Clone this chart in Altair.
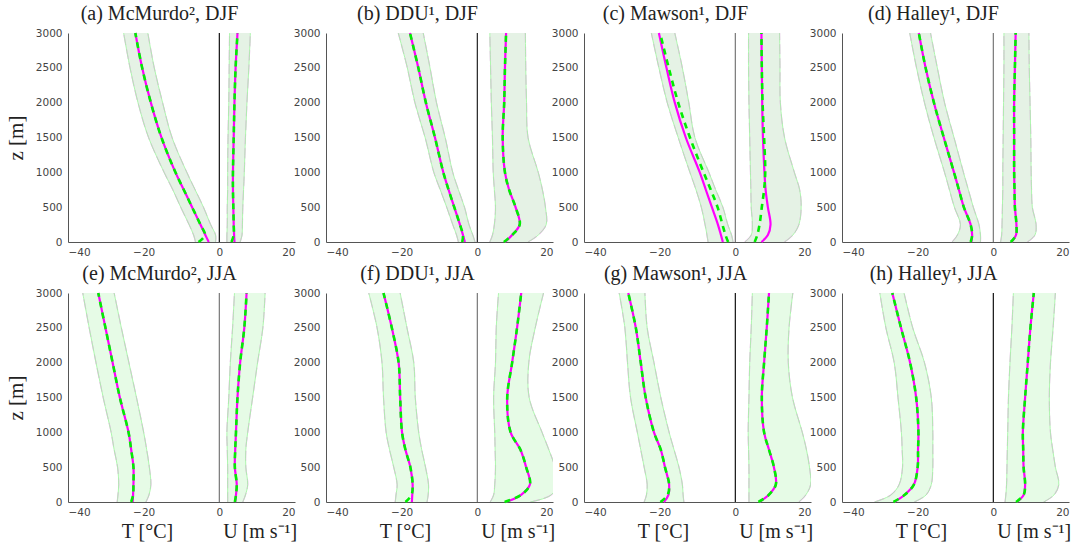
import altair as alt
import pandas as pd

# heights (m)
Z = [0, 100, 250, 500, 750, 1000, 1500, 2000, 2500, 3000]

TITLES = ["(a) McMurdo², DJF", "(b) DDU¹, DJF", "(c) Mawson¹, DJF", "(d) Halley¹, DJF",
          "(e) McMurdo², JJA", "(f) DDU¹, JJA", "(g) Mawson¹, JJA", "(h) Halley¹, JJA"]
X_TICKS = [-40, -20, 0, 20]
Y_TICKS = [0, 500, 1000, 1500, 2000, 2500, 3000]
X_LABELS = ["T [°C]", "U [m s⁻¹]"]
X_LABEL_POS = [-19, 10.8]

# (a) McMurdo DJF
A_T = [-2.8, -3.7, -5.0, -7.2, -9.4, -11.6, -15.3, -18.1, -20.4, -22.2]
A_T_MOD = [-5.5, -3.8, -5.0, -7.2, -9.4, -11.6, -15.3, -18.1, -20.4, -22.2]
A_T_LO = [-6.3, -6.8, -8.0, -10.2, -12.3, -14.6, -18.7, -21.5, -23.6, -25.3]
A_T_HI = [-1.0, -1.0, -2.3, -4.2, -6.4, -8.6, -12.5, -15.0, -17.2, -18.9]
A_U = [4.0, 3.9, 3.8, 3.7, 3.6, 3.6, 3.8, 4.0, 4.3, 4.8]
A_U_MOD = [3.2, 3.8, 3.8, 3.7, 3.6, 3.6, 3.8, 4.0, 4.3, 4.8]
A_U_LO = [2.0, 2.0, 2.1, 2.1, 2.2, 2.2, 2.3, 2.5, 2.6, 2.7]
A_U_HI = [5.5, 6.0, 6.1, 6.2, 6.4, 6.6, 6.9, 7.3, 7.8, 8.2]

# (b) DDU DJF
B_T = [-3.3, -3.8, -4.6, -6.1, -7.6, -9.0, -11.2, -13.6, -15.6, -17.8]
B_T_MOD = [-4.0, -3.8, -4.6, -6.1, -7.6, -9.0, -11.2, -13.6, -15.6, -17.8]
B_T_LO = [-5.0, -5.5, -6.5, -8.1, -9.8, -11.5, -13.8, -16.5, -18.5, -20.9]
B_T_HI = [-0.6, -1.2, -2.2, -3.4, -5.0, -6.5, -8.5, -10.8, -12.5, -14.3]
B_U = [7.3, 9.2, 11.2, 10.1, 8.4, 7.3, 6.7, 7.1, 7.3, 7.6]
B_U_MOD = [7.0, 9.2, 11.2, 10.1, 8.4, 7.3, 6.7, 7.1, 7.3, 7.6]
B_U_LO = [3.3, 4.0, 4.5, 4.8, 4.5, 4.2, 4.0, 3.7, 3.5, 3.3]
B_U_HI = [13.4, 16.1, 18.2, 18.0, 17.2, 16.1, 13.4, 13.0, 12.8, 12.7]

# (c) Mawson DJF
C_T = [-3.3, -3.8, -4.6, -6.2, -7.8, -9.4, -13.1, -16.0, -18.2, -20.2]
C_T_MOD = [-1.9, -2.6, -3.4, -4.7, -6.5, -8.4, -12.0, -15.1, -17.6, -19.9]
C_T_LO = [-7.2, -7.5, -8.0, -9.0, -10.4, -12.0, -15.1, -18.0, -20.2, -22.2]
C_T_HI = [-0.6, -1.0, -2.0, -3.3, -5.2, -7.0, -10.7, -12.3, -14.0, -16.0]
C_U = [6.9, 8.6, 9.3, 8.6, 8.0, 7.7, 7.3, 7.1, 7.0, 6.9]
C_U_MOD = [5.1, 5.8, 6.4, 7.0, 7.6, 7.9, 7.6, 7.2, 7.0, 6.9]
C_U_LO = [2.5, 4.2, 4.5, 4.2, 4.1, 4.0, 3.8, 3.6, 3.5, 3.5]
C_U_HI = [13.0, 15.2, 16.8, 17.4, 17.0, 15.6, 13.0, 11.9, 11.8, 11.7]

# (d) Halley DJF
D_T = [-5.8, -5.6, -6.0, -7.8, -9.1, -10.4, -13.1, -15.7, -17.9, -19.7]
D_T_MOD = [-6.0, -5.6, -6.0, -7.8, -9.1, -10.4, -13.1, -15.7, -17.9, -19.7]
D_T_LO = [-10.9, -9.5, -8.7, -10.3, -11.6, -12.9, -15.7, -18.2, -20.3, -22.1]
D_T_HI = [-3.4, -3.4, -3.8, -5.3, -6.6, -7.9, -10.4, -12.9, -14.8, -16.6]
D_U = [4.8, 6.0, 6.1, 5.7, 5.6, 5.5, 5.5, 5.5, 5.7, 5.9]
D_U_MOD = [4.6, 6.0, 6.1, 5.7, 5.6, 5.5, 5.5, 5.5, 5.7, 5.9]
D_U_LO = [1.9, 2.2, 2.3, 2.4, 2.5, 2.5, 2.6, 2.7, 2.8, 2.8]
D_U_HI = [9.0, 11.0, 11.3, 10.3, 10.1, 10.0, 9.9, 9.7, 9.5, 9.4]

# (e) McMurdo JJA
E_T = [-22.9, -22.8, -22.7, -22.7, -23.3, -24.0, -26.3, -28.2, -30.1, -32.0]
E_T_MOD = [-23.3, -22.8, -22.7, -22.7, -23.3, -24.0, -26.3, -28.2, -30.1, -32.0]
E_T_LO = [-27.0, -26.8, -26.6, -26.9, -27.8, -28.6, -30.7, -32.6, -34.4, -36.1]
E_T_HI = [-19.4, -18.6, -18.1, -18.5, -19.2, -20.0, -21.9, -23.9, -25.9, -27.8]
E_U = [4.2, 4.4, 4.6, 4.1, 4.2, 4.4, 4.8, 5.5, 6.6, 7.2]
E_U_MOD = [4.1, 4.4, 4.6, 4.1, 4.2, 4.4, 4.8, 5.5, 6.6, 7.2]
E_U_LO = [2.2, 2.2, 2.2, 2.2, 2.1, 2.0, 2.5, 2.9, 3.5, 4.0]
E_U_HI = [6.2, 6.9, 7.5, 7.0, 7.0, 7.5, 8.8, 10.1, 11.5, 12.1]

# (f) DDU JJA
F_T = [-17.3, -17.2, -17.1, -17.7, -19.0, -19.9, -20.4, -20.8, -22.6, -24.8]
F_T_MOD = [-19.0, -17.4, -17.1, -17.7, -19.0, -19.9, -20.4, -20.8, -22.6, -24.8]
F_T_LO = [-21.7, -21.5, -21.2, -22.1, -23.2, -24.1, -24.8, -25.2, -26.5, -28.7]
F_T_HI = [-13.3, -13.0, -12.9, -13.7, -14.7, -15.5, -16.4, -16.8, -18.6, -20.4]
F_U = [7.4, 11.5, 13.9, 12.9, 11.4, 8.8, 7.9, 9.2, 10.5, 11.6]
F_U_MOD = [7.2, 11.5, 13.9, 12.9, 11.4, 8.8, 7.9, 9.2, 10.5, 11.6]
F_U_LO = [3.4, 4.3, 4.6, 4.8, 4.7, 4.6, 4.3, 4.8, 5.0, 5.6]
F_U_HI = [14.0, 19.5, 21.0, 20.5, 18.9, 17.1, 13.7, 13.6, 15.3, 17.5]

# (g) Mawson JJA
G_T = [-18.9, -17.7, -17.5, -18.6, -19.7, -21.5, -23.7, -25.0, -26.3, -28.3]
G_T_MOD = [-19.8, -17.9, -17.5, -18.6, -19.7, -21.5, -23.7, -25.0, -26.3, -28.3]
G_T_LO = [-24.1, -23.5, -23.3, -24.1, -25.0, -25.9, -27.7, -28.5, -29.2, -30.7]
G_T_HI = [-13.6, -13.8, -14.0, -14.9, -16.2, -17.5, -19.7, -21.5, -23.3, -23.9]
G_U = [6.3, 8.8, 10.7, 10.2, 8.9, 7.6, 7.0, 7.6, 8.3, 8.9]
G_U_MOD = [6.1, 8.8, 10.7, 10.2, 8.9, 7.6, 7.0, 7.6, 8.3, 8.9]
G_U_LO = [3.6, 3.6, 3.6, 3.6, 3.5, 3.4, 3.6, 3.8, 4.2, 4.5]
G_U_HI = [16.8, 18.6, 19.9, 19.6, 18.8, 17.7, 15.1, 14.0, 14.2, 15.2]

# (h) Halley JJA
H_T = [-26.2, -23.5, -21.0, -20.0, -19.9, -19.8, -20.4, -22.0, -24.4, -26.7]
H_T_MOD = [-26.4, -23.5, -21.0, -20.0, -19.9, -19.8, -20.4, -22.0, -24.4, -26.7]
H_T_LO = [-31.4, -27.1, -24.9, -24.0, -24.1, -24.3, -25.2, -26.2, -28.4, -30.0]
H_T_HI = [-20.9, -17.8, -16.4, -16.0, -16.0, -16.0, -16.4, -18.2, -21.3, -23.6]
H_U = [6.2, 8.0, 8.4, 8.0, 7.9, 7.8, 8.4, 9.1, 9.8, 10.7]
H_U_MOD = [6.0, 8.0, 8.4, 8.0, 7.9, 7.8, 8.4, 9.1, 9.8, 10.7]
H_U_LO = [3.1, 3.3, 3.5, 3.6, 3.7, 3.8, 4.0, 4.4, 4.9, 5.3]
H_U_HI = [13.3, 16.0, 17.3, 16.4, 15.7, 15.1, 14.8, 15.1, 15.8, 16.4]

PANELS = [
    (A_T, A_T_MOD, A_T_LO, A_T_HI, A_U, A_U_MOD, A_U_LO, A_U_HI),
    (B_T, B_T_MOD, B_T_LO, B_T_HI, B_U, B_U_MOD, B_U_LO, B_U_HI),
    (C_T, C_T_MOD, C_T_LO, C_T_HI, C_U, C_U_MOD, C_U_LO, C_U_HI),
    (D_T, D_T_MOD, D_T_LO, D_T_HI, D_U, D_U_MOD, D_U_LO, D_U_HI),
    (E_T, E_T_MOD, E_T_LO, E_T_HI, E_U, E_U_MOD, E_U_LO, E_U_HI),
    (F_T, F_T_MOD, F_T_LO, F_T_HI, F_U, F_U_MOD, F_U_LO, F_U_HI),
    (G_T, G_T_MOD, G_T_LO, G_T_HI, G_U, G_U_MOD, G_U_LO, G_U_HI),
    (H_T, H_T_MOD, H_T_LO, H_T_HI, H_U, H_U_MOD, H_U_LO, H_U_HI),
]
ZERO_LINE_COLORS = ["#111111", "#222222", "#777777", "#777777",
                    "#777777", "#777777", "#111111", "#111111"]
FILL_TOP = "#e5f2e5"
FILL_BOTTOM = "#e6fbe6"

W, H = 227, 209
XS = alt.Scale(domain=[-40, 20], nice=False, zero=False)
YS = alt.Scale(domain=[0, 3000], nice=False, zero=False)


def xenc(field):
    return alt.X(field, type="quantitative", scale=XS,
                 axis=alt.Axis(values=X_TICKS, title=None, format="d", labelPadding=5))


def yenc(field, col):
    return alt.Y(field, type="quantitative", scale=YS,
                 axis=alt.Axis(values=Y_TICKS, title="z [m]" if col == 0 else None,
                               format="d", titleFontWeight="normal",
                               titleFont="Liberation Serif", titleFontSize=21))


def panel(i):
    t, tm, tlo, thi, u, um, ulo, uhi = PANELS[i]
    col = i % 4
    bottom = i >= 4
    n = len(Z)
    fill = FILL_BOTTOM if bottom else FILL_TOP

    band = pd.DataFrame({"z": Z * 2, "lo": tlo + ulo, "hi": thi + uhi,
                         "var": ["T"] * n + ["U"] * n})
    edges = pd.DataFrame({"z": Z * 4, "v": tlo + thi + ulo + uhi,
                          "s": ["a"] * n + ["b"] * n + ["c"] * n + ["d"] * n})
    obs = pd.DataFrame({"z": Z * 2, "v": t + u, "s": ["T"] * n + ["U"] * n})
    mod = pd.DataFrame({"z": Z * 2, "v": tm + um, "s": ["T"] * n + ["U"] * n})
    zero = pd.DataFrame({"x": [0], "z0": [0], "z1": [3000]})

    area = alt.Chart(band).mark_area(
        orient="horizontal", interpolate="catmull-rom", fill=fill, opacity=1,
        clip=True
    ).encode(x=xenc("lo"), x2=alt.X2("hi"), y=yenc("z", col), detail="var:N")
    pink_edge = alt.Chart(edges).mark_line(
        interpolate="catmull-rom", color="#f5a8f5", strokeWidth=1.2,
        strokeDash=[10, 4], clip=True
    ).encode(x=xenc("v"), y=yenc("z", col), detail="s:N", order=alt.Order("z:Q"))
    green_edge = alt.Chart(edges).mark_line(
        interpolate="catmull-rom", color="#a6f5a6", strokeWidth=0.9, clip=True
    ).encode(x=xenc("v"), y=yenc("z", col), detail="s:N", order=alt.Order("z:Q"))
    rule = alt.Chart(zero).mark_rule(color=ZERO_LINE_COLORS[i], strokeWidth=1.2).encode(
        x=xenc("x"), y=yenc("z0", col), y2=alt.Y2("z1"))
    obs_line = alt.Chart(obs).mark_line(
        interpolate="catmull-rom", color="#ff00ff", strokeWidth=2.2
    ).encode(x=xenc("v"), y=yenc("z", col), detail="s:N", order=alt.Order("z:Q"))
    mod_line = alt.Chart(mod).mark_line(
        interpolate="catmull-rom", color="#00ee00", strokeWidth=2.6, strokeDash=[6, 5]
    ).encode(x=xenc("v"), y=yenc("z", col), detail="s:N", order=alt.Order("z:Q"))

    layers = [area, pink_edge, green_edge, rule, obs_line, mod_line]
    if bottom:
        lab = pd.DataFrame({"x": X_LABEL_POS, "label": X_LABELS})
        text = alt.Chart(lab).mark_text(
            font="Liberation Serif", fontSize=20, color="#222222",
            baseline="middle", align="center"
        ).encode(x=xenc("x"), y=alt.value(H + 30), text="label:N")
        layers.append(text)

    return alt.layer(*layers).properties(
        width=W, height=H,
        title=alt.TitleParams(TITLES[i], dx=-22, offset=4))


chart = alt.concat(*[panel(i) for i in range(8)], columns=4,
                   spacing={"row": 51, "column": 31}, bounds="flush").properties(
    padding={"left": 5, "top": 3, "right": 5, "bottom": 2}
).configure_view(stroke=None).configure_axis(
    domainColor="#555555", domainWidth=1, ticks=False, grid=False,
    labelFont="DejaVu Sans", labelFontSize=10.5, labelColor="#444444",
    labelPadding=6, titleFont="Liberation Serif", titleFontSize=21,
    titleFontWeight="normal", titleColor="#222222", titlePadding=9
).configure_title(
    font="Liberation Serif", fontSize=20, fontWeight="normal", color="#222222"
)

chart.save("out.html", embed_options={"renderer": "svg", "actions": False})
